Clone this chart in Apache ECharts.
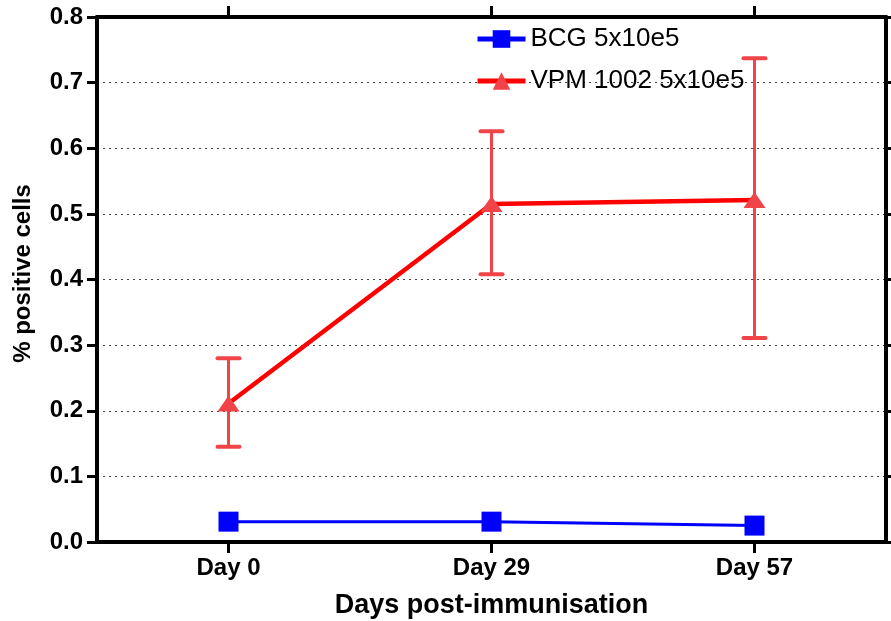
<!DOCTYPE html>
<html>
<head>
<meta charset="utf-8">
<script src="https://cdn.jsdelivr.net/npm/echarts@6/dist/echarts.min.js"></script>
<style>
html,body{margin:0;padding:0;background:#fff;}
#chart{width:891px;height:621px;}
</style>
</head>
<body>
<div id="chart"></div>
<script>
const categories = ['Day 0', 'Day 29', 'Day 57'];
const bcgValues = [0.031, 0.031, 0.025];
const vpmValues = [0.211, 0.515, 0.521];
const vpmLow = [0.145, 0.408, 0.311];
const vpmHigh = [0.280, 0.626, 0.737];
const yTicks = [0.0, 0.1, 0.2, 0.3, 0.4, 0.5, 0.6, 0.7, 0.8];

const FONT = '"Liberation Sans", Arial, sans-serif';
const chart = echarts.init(document.getElementById('chart'), null, {renderer: 'canvas'});

const errData = categories.map((c, i) => [i, vpmLow[i], vpmHigh[i]]);

function catTick() {
  return {show: true, alignWithLabel: true, interval: 0, inside: false, length: 11, lineStyle: {color: '#000', width: 3}};
}

const option = {
  backgroundColor: '#ffffff',
  animation: false,
  grid: {left: 97, right: 5, top: 17, bottom: 79, containLabel: false, outerBoundsMode: 'none'},
  legend: {
    data: ['BCG 5x10e5', 'VPM 1002 5x10e5'],
    orient: 'vertical',
    left: 470,
    top: 21,
    itemWidth: 48,
    itemHeight: 22,
    itemGap: 16,
    lineStyle: {width: 5},
    textStyle: {fontFamily: FONT, fontSize: 26, color: '#000'}
  },
  xAxis: [{
    type: 'category',
    data: categories,
    boundaryGap: true,
    position: 'bottom',
    name: 'Days post-immunisation',
    nameLocation: 'middle',
    nameGap: 50,
    nameTextStyle: {fontFamily: FONT, fontSize: 27, fontWeight: 'bold', color: '#000'},
    axisLine: {show: true, onZero: false, lineStyle: {color: '#000', width: 4}},
    axisTick: catTick(),
    axisLabel: {fontFamily: FONT, fontSize: 24, fontWeight: 'bold', color: '#000', margin: 14, interval: 0},
    splitLine: {show: false}
  }, {
    type: 'category',
    data: categories,
    boundaryGap: true,
    position: 'top',
    axisLine: {show: true, onZero: false, lineStyle: {color: '#000', width: 4}},
    axisTick: catTick(),
    axisLabel: {show: false},
    splitLine: {show: false}
  }],
  yAxis: [{
    type: 'value',
    min: yTicks[0],
    max: yTicks[yTicks.length - 1],
    interval: 0.1,
    position: 'left',
    name: '% positive cells',
    nameLocation: 'middle',
    nameGap: 62,
    nameTextStyle: {fontFamily: FONT, fontSize: 24, fontWeight: 'bold', color: '#000', padding: [0, 0, 0, 12]},
    axisLine: {show: true, onZero: false, lineStyle: {color: '#000', width: 4}},
    axisTick: {show: true, length: 10, lineStyle: {color: '#000', width: 3}},
    axisLabel: {fontFamily: FONT, fontSize: 24, fontWeight: 'bold', color: '#000', margin: 14,
      formatter: v => v.toFixed(1)},
    splitLine: {show: true, lineStyle: {color: '#444', width: 1, type: [2, 4]}}
  }, {
    type: 'value',
    min: yTicks[0],
    max: yTicks[yTicks.length - 1],
    interval: 0.1,
    position: 'right',
    axisLine: {show: true, onZero: false, lineStyle: {color: '#000', width: 4}},
    axisTick: {show: true, length: 8, lineStyle: {color: '#000', width: 3}},
    axisLabel: {show: false},
    splitLine: {show: false}
  }],
  series: [{
    name: 'BCG 5x10e5',
    type: 'line',
    data: bcgValues,
    xAxisIndex: 0, yAxisIndex: 0,
    symbol: 'rect',
    symbolSize: 20,
    itemStyle: {color: '#0000ff'},
    lineStyle: {color: '#0000ff', width: 3},
    z: 3
  }, {
    name: 'VPM 1002 5x10e5',
    type: 'line',
    data: vpmValues,
    xAxisIndex: 0, yAxisIndex: 0,
    symbol: 'triangle',
    symbolSize: [22, 16],
    itemStyle: {color: '#f04448'},
    lineStyle: {color: '#ff0000', width: 4.5},
    z: 3
  }, {
    name: 'err',
    type: 'custom',
    xAxisIndex: 0, yAxisIndex: 0,
    data: errData,
    z: 2,
    silent: true,
    renderItem: function (params, api) {
      const x = api.value(0);
      const lo = api.coord([x, api.value(1)]);
      const hi = api.coord([x, api.value(2)]);
      const hw = 11;
      const style = {stroke: '#f04448', lineWidth: 3};
      return {
        type: 'group',
        children: [
          {type: 'line', shape: {x1: lo[0], y1: lo[1], x2: hi[0], y2: hi[1]}, style: style},
          {type: 'line', shape: {x1: hi[0] - hw, y1: hi[1], x2: hi[0] + hw, y2: hi[1]}, style: {stroke: '#f04448', lineWidth: 4, lineCap: 'round'}},
          {type: 'line', shape: {x1: lo[0] - hw, y1: lo[1], x2: lo[0] + hw, y2: lo[1]}, style: {stroke: '#f04448', lineWidth: 4, lineCap: 'round'}}
        ]
      };
    }
  }]
};
chart.setOption(option);
</script>
</body>
</html>
